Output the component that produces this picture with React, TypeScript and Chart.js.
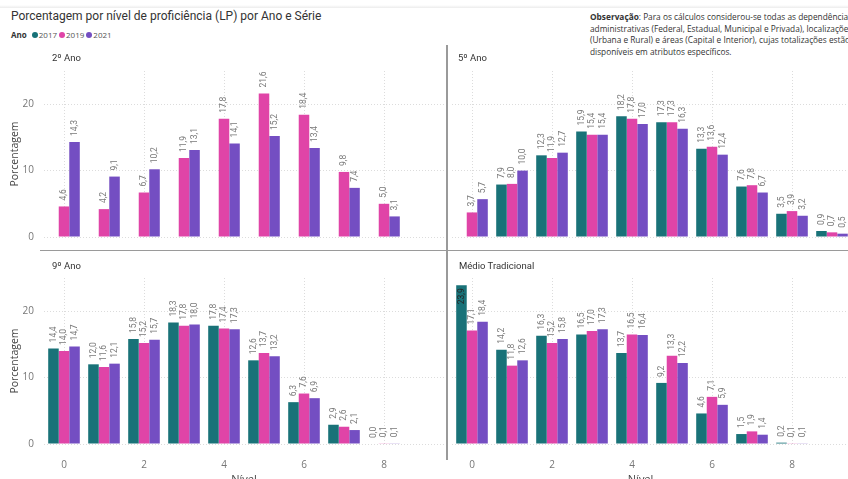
import React, { useEffect, useRef } from "react";
import { Chart, registerables } from "chart.js";

Chart.register(...registerables);

const levels = ["0", "1", "2", "3", "4", "5", "6", "7", "8", "9"];
const years = ["2017", "2019", "2021"];
const yearColors = ["#197278", "#E044A7", "#744EC2"];
const yTicks = [0, 10, 20];

const ano2_2017: (number | null)[] = [null, null, null, null, null, null, null, null, null, null];
const ano2_2019: (number | null)[] = [4.6, 4.2, 6.7, 11.9, 17.8, 21.6, 18.4, 9.8, 5.0, null];
const ano2_2021: (number | null)[] = [14.3, 9.1, 10.2, 13.1, 14.1, 15.2, 13.4, 7.4, 3.1, null];

const ano5_2017: (number | null)[] = [null, 7.9, 12.3, 15.9, 18.2, 17.3, 13.3, 7.6, 3.5, 0.9];
const ano5_2019: (number | null)[] = [3.7, 8.0, 11.9, 15.4, 17.8, 17.3, 13.6, 7.8, 3.9, 0.7];
const ano5_2021: (number | null)[] = [5.7, 10.0, 12.7, 15.4, 17.0, 16.3, 12.4, 6.7, 3.2, 0.5];

const ano9_2017: (number | null)[] = [14.4, 12.0, 15.8, 18.3, 17.8, 12.6, 6.3, 2.9, 0.0, null];
const ano9_2019: (number | null)[] = [14.0, 11.6, 15.2, 17.8, 17.4, 13.7, 7.6, 2.6, 0.1, null];
const ano9_2021: (number | null)[] = [14.7, 12.1, 15.7, 18.0, 17.3, 13.2, 6.9, 2.1, 0.1, null];

const medio_2017: (number | null)[] = [23.9, 14.2, 16.3, 16.5, 13.7, 9.2, 4.6, 1.5, 0.2, null];
const medio_2019: (number | null)[] = [17.1, 11.8, 15.2, 17.0, 16.5, 13.3, 7.1, 1.9, 0.1, null];
const medio_2021: (number | null)[] = [18.4, 12.6, 15.8, 17.3, 16.4, 12.2, 5.9, 1.4, 0.1, null];

const FONT = "'Open Sans', 'Noto Sans', sans-serif";
const LABEL_FONT = "Roboto, 'Open Sans', sans-serif";

const fmt = (v: number) => v.toFixed(1).replace(".", ",");

const labelPlugin = {
  id: "barLabels",
  afterDatasetsDraw(chart: any) {
    const ctx = chart.ctx;
    const area = chart.chartArea;
    ctx.save();
    ctx.font = `8.5px ${LABEL_FONT}`;
    ctx.textBaseline = "middle";
    chart.data.datasets.forEach((ds: any, di: number) => {
      const meta = chart.getDatasetMeta(di);
      meta.data.forEach((bar: any, i: number) => {
        const v = ds.data[i];
        if (v === null || v === undefined) return;
        const t = fmt(v);
        const w = ctx.measureText(t).width;
        ctx.save();
        if (bar.y - 6 - w < area.top - 2) {
          ctx.translate(bar.x, bar.y + 3);
          ctx.rotate(-Math.PI / 2);
          ctx.textAlign = "right";
          ctx.fillStyle = "#252525";
        } else {
          ctx.translate(bar.x, bar.y - 6);
          ctx.rotate(-Math.PI / 2);
          ctx.textAlign = "left";
          ctx.fillStyle = "#7a7a7a";
        }
        ctx.fillText(t, 0, 0);
        ctx.restore();
      });
    });
    ctx.restore();
  },
};

type PanelProps = {
  series: (number | null)[][];
  left: number;
  top: number;
  width: number;
  height: number;
  yWidth: number;
  xHeight: number;
  padTop: number;
  padRight: number;
  showY: boolean;
  showX: boolean;
  xTitle: string;
};

function Panel(p: PanelProps) {
  const ref = useRef<HTMLCanvasElement | null>(null);
  useEffect(() => {
    if (!ref.current) return;
    const chart = new Chart(ref.current, {
      type: "bar",
      data: {
        labels: levels,
        datasets: years.map((y, i) => ({
          label: y,
          data: p.series[i],
          backgroundColor: yearColors[i],
          borderWidth: 0,
          categoryPercentage: 0.79,
          barPercentage: 1.0,
        })),
      },
      options: {
        responsive: false,
        animation: false,
        layout: { padding: { top: p.padTop, right: p.padRight, left: 0, bottom: 0 } },
        plugins: {
          legend: { display: false },
          tooltip: { enabled: false },
        },
        scales: {
          x: {
            type: "category",
            offset: true,
            afterFit: (s: any) => {
              s.height = p.xHeight;
              s.paddingLeft = 0;
              s.paddingRight = 0;
            },
            grid: {
              offset: false,
              drawTicks: false,
              lineWidth: 1,
              color: (c: any) => (c.index % 2 === 0 ? "#dcdcdc" : "rgba(0,0,0,0)"),
            },
            border: { display: false, dash: [1, 2] },
            ticks: {
              display: p.showX,
              autoSkip: false,
              maxRotation: 0,
              padding: 15,
              color: "#777777",
              font: { family: FONT, size: 10 },
              callback: (_v: any, i: number) => (i % 2 === 0 ? levels[i] : ""),
            },
            title: {
              display: p.showX,
              text: p.xTitle,
              color: "#444444",
              font: { family: FONT, size: 11 },
              padding: { top: 0, bottom: 4 },
            },
          },
          y: {
            min: 0,
            max: 25,
            afterFit: (s: any) => {
              s.width = p.yWidth;
              s.paddingTop = 0;
              s.paddingBottom = 0;
            },
            afterBuildTicks: (s: any) => {
              s.ticks = yTicks.map((v) => ({ value: v }));
            },
            grid: { drawTicks: false, lineWidth: 1, color: "#dcdcdc" },
            border: { display: false, dash: [1, 2] },
            ticks: {
              display: p.showY,
              padding: 10,
              color: "#777777",
              font: { family: FONT, size: 10 },
              callback: (v: any) => String(v),
            },
            title: {
              display: p.showY,
              text: "Porcentagem",
              color: "#444444",
              font: { family: FONT, size: 10.5 },
              padding: { top: 9, bottom: 0 },
            },
          },
        },
      },
      plugins: [labelPlugin],
    } as any);
    return () => chart.destroy();
  }, []);
  return (
    <canvas
      ref={ref}
      width={p.width}
      height={p.height}
      style={{ position: "absolute", left: p.left, top: p.top, width: p.width, height: p.height }}
    />
  );
}

const txt = (extra: React.CSSProperties): React.CSSProperties => ({
  position: "absolute",
  fontFamily: FONT,
  whiteSpace: "nowrap",
  ...extra,
});

export default function App() {
  useEffect(() => {
    document.body.style.margin = "0";
    document.body.style.overflow = "hidden";
  }, []);
  return (
    <div
      style={{
        position: "fixed",
        left: 0,
        top: 0,
        width: 848,
        height: 479,
        overflow: "hidden",
        background: "#ffffff",
      }}
    >
      <div style={{ position: "absolute", left: 0, top: 5, width: 848, height: 3, background: "linear-gradient(#ffffff, #ececec)" }} />
      <div style={txt({ left: 11, top: 9, fontSize: 12, color: "#333333", fontFamily: "Roboto, sans-serif" })}>
        Porcentagem por nível de proficiência (LP) por Ano e Série
      </div>
      <div style={txt({ left: 11, top: 29, fontSize: 8, color: "#555555", display: "flex", alignItems: "center" })}>
        <span style={{ fontWeight: 700, color: "#333", marginRight: 5 }}>Ano</span>
        {years.map((y, i) => (
          <span key={y} style={{ display: "flex", alignItems: "center", marginRight: 2 }}>
            <span
              style={{
                display: "inline-block",
                width: 6,
                height: 6,
                borderRadius: 3,
                background: yearColors[i],
                marginRight: 1,
              }}
            />
            {y}
          </span>
        ))}
      </div>
      <div style={txt({ left: 590, top: 11, fontSize: 8.3, lineHeight: "11.7px", color: "#333333" })}>
        <div>
          <b>Observação</b>: Para os cálculos considerou-se todas as dependências
        </div>
        <div>administrativas (Federal, Estadual, Municipal e Privada), localizações</div>
        <div>(Urbana e Rural) e áreas (Capital e Interior), cujas totalizações estão</div>
        <div>disponíveis em atributos específicos.</div>
      </div>

      <Panel series={[ano2_2017, ano2_2019, ano2_2021]} left={0} top={45} width={446} height={205}
        yWidth={44} xHeight={13} padTop={26} padRight={2} showY={true} showX={false} xTitle="Nível" />
      <Panel series={[ano5_2017, ano5_2019, ano5_2021]} left={446} top={45} width={410} height={205}
        yWidth={6} xHeight={13} padTop={26} padRight={4} showY={false} showX={false} xTitle="Nível" />
      <Panel series={[ano9_2017, ano9_2019, ano9_2021]} left={0} top={250} width={446} height={240}
        yWidth={44} xHeight={46} padTop={28} padRight={2} showY={true} showX={true} xTitle="Nível" />
      <Panel series={[medio_2017, medio_2019, medio_2021]} left={446} top={250} width={410} height={240}
        yWidth={6} xHeight={46} padTop={28} padRight={4} showY={false} showX={true} xTitle={"Nível        "} />

      <div style={{ position: "absolute", left: 446, top: 45, width: 1.5, height: 415, background: "#9a9a9a" }} />
      <div style={{ position: "absolute", left: 40, top: 249.5, width: 808, height: 1.5, background: "#9a9a9a" }} />

      <div style={txt({ left: 52, top: 52, fontSize: 9.5, color: "#333333", fontFamily: "Roboto, sans-serif" })}>2º Ano</div>
      <div style={txt({ left: 458, top: 52, fontSize: 9.5, color: "#333333", fontFamily: "Roboto, sans-serif" })}>5º Ano</div>
      <div style={txt({ left: 52, top: 260, fontSize: 9.5, color: "#333333", fontFamily: "Roboto, sans-serif" })}>9º Ano</div>
      <div style={txt({ left: 459, top: 260, fontSize: 9.5, color: "#333333", fontFamily: "Roboto, sans-serif" })}>Médio Tradicional</div>
    </div>
  );
}
